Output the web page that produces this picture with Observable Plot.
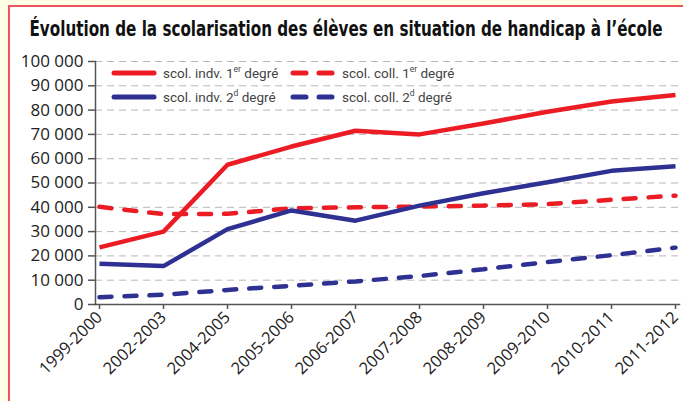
<!DOCTYPE html>
<html>
<head>
<meta charset="utf-8">
<script src="https://cdn.jsdelivr.net/npm/d3@7"></script>
<script src="https://cdn.jsdelivr.net/npm/@observablehq/plot@0.6"></script>
<style>
  html, body { margin: 0; padding: 0; }
  body { width: 683px; height: 401px; background: #fffde6; position: relative; overflow: hidden; }
  #box { position: absolute; left: 8px; top: 5px; width: 700px; height: 420px; border: 2px solid #f0545a; background: #fff; }
  #tspan { position: absolute; left: 346px; top: 16px; white-space: nowrap;
           font-family: "Liberation Sans Narrow", "DejaVu Sans Condensed", "Roboto", sans-serif; font-weight: bold;
           font-size: 22px; color: #111; transform-origin: 0 50%; }
  #chart { position: absolute; left: 0; top: 40px; }
  #legend { position: absolute; left: 0; top: 0; width: 683px; height: 120px; pointer-events: none;
            font-family: "Liberation Sans Narrow", "Roboto", sans-serif; font-size: 13.5px; color: #444; }
</style>
</head>
<body>
<div id="box"></div>
<div id="tspan">Évolution de la scolarisation des élèves en situation de handicap à l’école</div>
<div id="chart"></div>
<svg id="legend" width="683" height="120"></svg>
<script>
// ---- data ----
const years = ["1999-2000","2002-2003","2004-2005","2005-2006","2006-2007","2007-2008","2008-2009","2009-2010","2010-2011","2011-2012"];
const indv1 = [23500, 30000, 57500, 65000, 71500, 70000, 74500, 79300, 83500, 86200];
const coll1 = [40200, 37200, 37300, 39600, 40000, 40300, 40700, 41300, 43100, 44800];
const indv2 = [16800, 15800, 31000, 38700, 34500, 40700, 45800, 50300, 55000, 56900];
const coll2 = [3000, 4000, 6000, 7700, 9500, 11700, 14500, 17500, 20300, 23400];
const yTicks = [0, 10000, 20000, 30000, 40000, 50000, 60000, 70000, 80000, 90000, 100000];
const seriesNames = ["scol. indv. 1er degré", "scol. coll. 1er degré", "scol. indv. 2d degré", "scol. coll. 2d degré"];

const RED = "#ec1c24", BLUE = "#2e3192";
const series = [
  {name: seriesNames[0], values: indv1, color: RED, dash: null},
  {name: seriesNames[1], values: coll1, color: RED, dash: "12 13"},
  {name: seriesNames[2], values: indv2, color: BLUE, dash: null},
  {name: seriesNames[3], values: coll2, color: BLUE, dash: "12 13"}
];
const rows = series.flatMap(s => s.values.map((v, i) => ({series: s.name, year: years[i], value: v})));

const fmt = d => d3.format(",")(d).replace(/,/g, "\u00a0");

const lineMarks = series.map(s => Plot.line(rows.filter(r => r.series === s.name), {
  x: "year", y: "value", stroke: s.color, strokeWidth: 4.5,
  strokeDasharray: s.dash || undefined, strokeLinecap: s.dash ? "round" : "butt", strokeLinejoin: "miter"
}));

const chart = Plot.plot({
  width: 683, height: 361,
  marginLeft: 95, marginRight: 4, marginTop: 21, marginBottom: 97,
  style: {fontFamily: "'Open Sans', sans-serif", fontSize: "17px", color: "#222", background: "transparent", overflow: "visible"},
  x: {type: "point", domain: years, padding: 0},
  y: {domain: [0, 100000]},
  marks: [
    Plot.gridY(yTicks, {stroke: "#b8b8b8", strokeOpacity: 1, strokeDasharray: "7 5", strokeWidth: 1}),
    Plot.axisY(yTicks, {tickFormat: fmt, tickSize: 7, tickPadding: 5, stroke: "#555", strokeWidth: 1.5, label: null, fill: "#222"}),
    Plot.axisX({tickRotate: -45, tickSize: 5, tickPadding: 5, stroke: "#555", strokeWidth: 1.5, label: null, fill: "#222", fontSize: 16.5}),
    Plot.frame({anchor: "left", stroke: "#555", strokeWidth: 1.5}),
    Plot.frame({anchor: "bottom", stroke: "#555", strokeWidth: 1.5}),
    ...lineMarks
  ]
});
document.getElementById("chart").appendChild(chart);

// ---- legend overlay inside the plot area ----
const lg = d3.select("#legend");
const legendLayout = [
  {s: series[0], x: 112, y: 73, tx: 163, main: "scol. indv. 1", sup: "er"},
  {s: series[1], x: 290, y: 73, tx: 342, main: "scol. coll. 1", sup: "er"},
  {s: series[2], x: 112, y: 97, tx: 163, main: "scol. indv. 2", sup: "d"},
  {s: series[3], x: 290, y: 97, tx: 342, main: "scol. coll. 2", sup: "d"}
];
legendLayout.forEach(l => {
  if (l.s.dash) {
    lg.append("line").attr("x1", l.x + 3).attr("x2", l.x + 42).attr("y1", l.y).attr("y2", l.y)
      .attr("stroke", l.s.color).attr("stroke-width", 5).attr("stroke-linecap", "round").attr("stroke-dasharray", "13 13");
  } else {
    lg.append("line").attr("x1", l.x + 2).attr("x2", l.x + 42).attr("y1", l.y).attr("y2", l.y)
      .attr("stroke", l.s.color).attr("stroke-width", 5).attr("stroke-linecap", "round");
  }
  const t = lg.append("text").attr("x", l.tx).attr("y", l.y + 5).attr("fill", "#444");
  t.append("tspan").text(l.main);
  t.append("tspan").attr("font-size", "8.5px").attr("dy", -6).text(l.sup);
  t.append("tspan").attr("dy", 6).text(" degré");
});

// fit title width to the reference (~633px), centred at x=346
const ts = document.getElementById("tspan");
const w = ts.getBoundingClientRect().width;
const k = 633 / w;
ts.style.transform = `translateX(${-633 / 2}px) scaleX(${k})`;
</script>
</body>
</html>
